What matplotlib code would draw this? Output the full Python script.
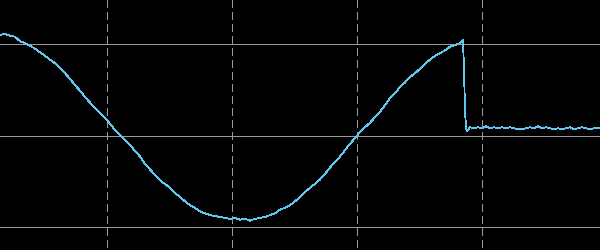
import numpy as np
import matplotlib
matplotlib.use("Agg")
import matplotlib.pyplot as plt

# Signal values (grid units: horizontal grid lines at -1, 0, +1)
v_ramp = [1.10, 1.11, 1.09, 1.08, 1.03, 1.01, 0.98, 0.95, 0.91, 0.87,
          0.83, 0.79, 0.74, 0.68, 0.62, 0.55, 0.49, 0.42, 0.36, 0.30,
          0.25, 0.19, 0.13, 0.06, 0.01, -0.05, -0.10, -0.17, -0.23, -0.31,
          -0.37, -0.43, -0.49, -0.53, -0.57, -0.63, -0.67, -0.72, -0.76, -0.79,
          -0.83, -0.85, -0.87, -0.88, -0.89, -0.90, -0.91, -0.90, -0.92, -0.91,
          -0.93, -0.91, -0.90, -0.89, -0.87, -0.85, -0.81, -0.79, -0.76, -0.72,
          -0.67, -0.62, -0.57, -0.53, -0.48, -0.42, -0.35, -0.29, -0.23, -0.16,
          -0.09, -0.03, 0.04, 0.09, 0.14, 0.20, 0.26, 0.33, 0.41, 0.46,
          0.53, 0.58, 0.64, 0.68, 0.73, 0.78, 0.83, 0.87, 0.90, 0.93,
          0.97, 0.99, 1.01]
t_ramp_start, t_ramp_step = 14.4, 4.0

t_edge = [384.8, 385.6, 386.4, 387.2, 388.0]
v_edge = [1.04, 0.72, 0.28, 0.08, 0.05]

v_flat = [0.09, 0.08, 0.09, 0.08, 0.10, 0.08, 0.09, 0.08, 0.09, 0.08,
          0.09, 0.08, 0.07, 0.07, 0.08, 0.09, 0.08, 0.10, 0.08, 0.09,
          0.08, 0.07, 0.08, 0.07, 0.08, 0.09, 0.07, 0.08, 0.09, 0.08,
          0.07, 0.08, 0.08, 0.09]
t_flat_start, t_flat_step = 390.4, 3.2

h_grid = [-1, 0, 1]
v_grid = [100, 200, 300, 400]

t_ramp = t_ramp_start + t_ramp_step * np.arange(len(v_ramp))
t_flat = t_flat_start + t_flat_step * np.arange(len(v_flat))
t = np.concatenate([t_ramp, t_edge, t_flat])
v = np.concatenate([v_ramp, v_edge, v_flat])

fig = plt.figure(figsize=(6, 2.5), dpi=100, facecolor="black")
ax = fig.add_axes([0, 0, 1, 1])
ax.set_facecolor("black")
ax.set_xlim(14.4, 494.4)
ax.set_ylim(-1.251, 1.481)
for s in ax.spines.values():
    s.set_visible(False)
ax.set_xticks([])
ax.set_yticks([])

lw = 0.72
for yv in h_grid:
    ax.axhline(yv, color="#9a9a9a", lw=lw, antialiased=False, zorder=1)
for xv in v_grid:
    ln, = ax.plot([xv, xv], [1.481, -1.251], color="#9a9a9a", lw=lw,
                  antialiased=False, zorder=1)
    ln.set_dashes((7, 5))

ax.plot(t, v, color="#62c6ee", lw=0.6, antialiased=False, zorder=3)

fig.savefig("out.png", dpi=100, facecolor="black")
